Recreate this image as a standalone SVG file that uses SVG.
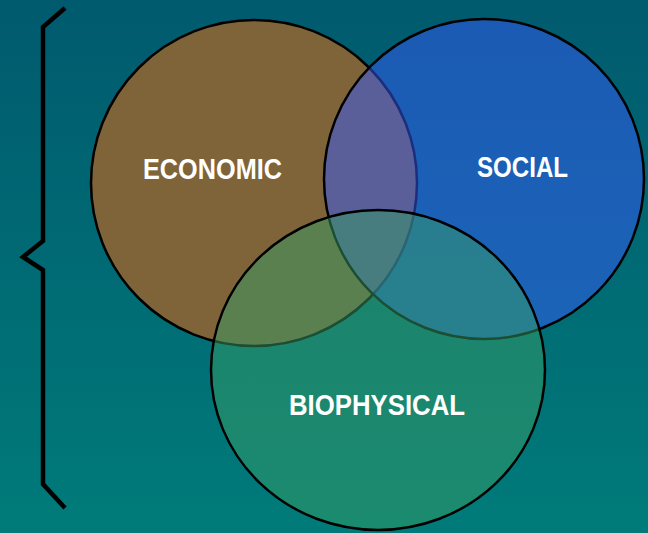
<svg xmlns="http://www.w3.org/2000/svg" width="648" height="533" viewBox="0 0 648 533">
<defs>
<linearGradient id="bg" x1="0" y1="0" x2="0" y2="1">
<stop offset="0" stop-color="#005a6e"/>
<stop offset="1" stop-color="#007b7a"/>
</linearGradient>
<style>
.c{stroke:#000;stroke-width:2.5}
.t{font-family:"Liberation Sans",Arial,sans-serif;font-weight:bold;font-size:29px;fill:#fff;text-anchor:middle}
</style>
</defs>
<rect width="648" height="533" fill="url(#bg)"/>
<g id="brace">
<polyline points="65,8 43,27 43,241 23,257 43,270 43,484 65,508" fill="none" stroke="#000" stroke-width="4.5"/>
</g>
<g id="economic">
<circle class="c" cx="254" cy="183" r="163" fill="#7f643a"/>
</g>
<g id="social">
<circle class="c" cx="484" cy="179" r="160" fill="#355afa" fill-opacity="0.5"/>
</g>
<g id="biophysical">
<ellipse class="c" cx="378" cy="370" rx="167" ry="160" fill="#359c66" fill-opacity="0.5"/>
</g>
<g id="labels">
<text class="t" x="212.5" y="179" textLength="139" lengthAdjust="spacingAndGlyphs">ECONOMIC</text>
<text class="t" x="522.5" y="177" textLength="91" lengthAdjust="spacingAndGlyphs">SOCIAL</text>
<text class="t" x="377" y="415" textLength="176" lengthAdjust="spacingAndGlyphs">BIOPHYSICAL</text>
</g>
<g id="connectors"/>
</svg>
